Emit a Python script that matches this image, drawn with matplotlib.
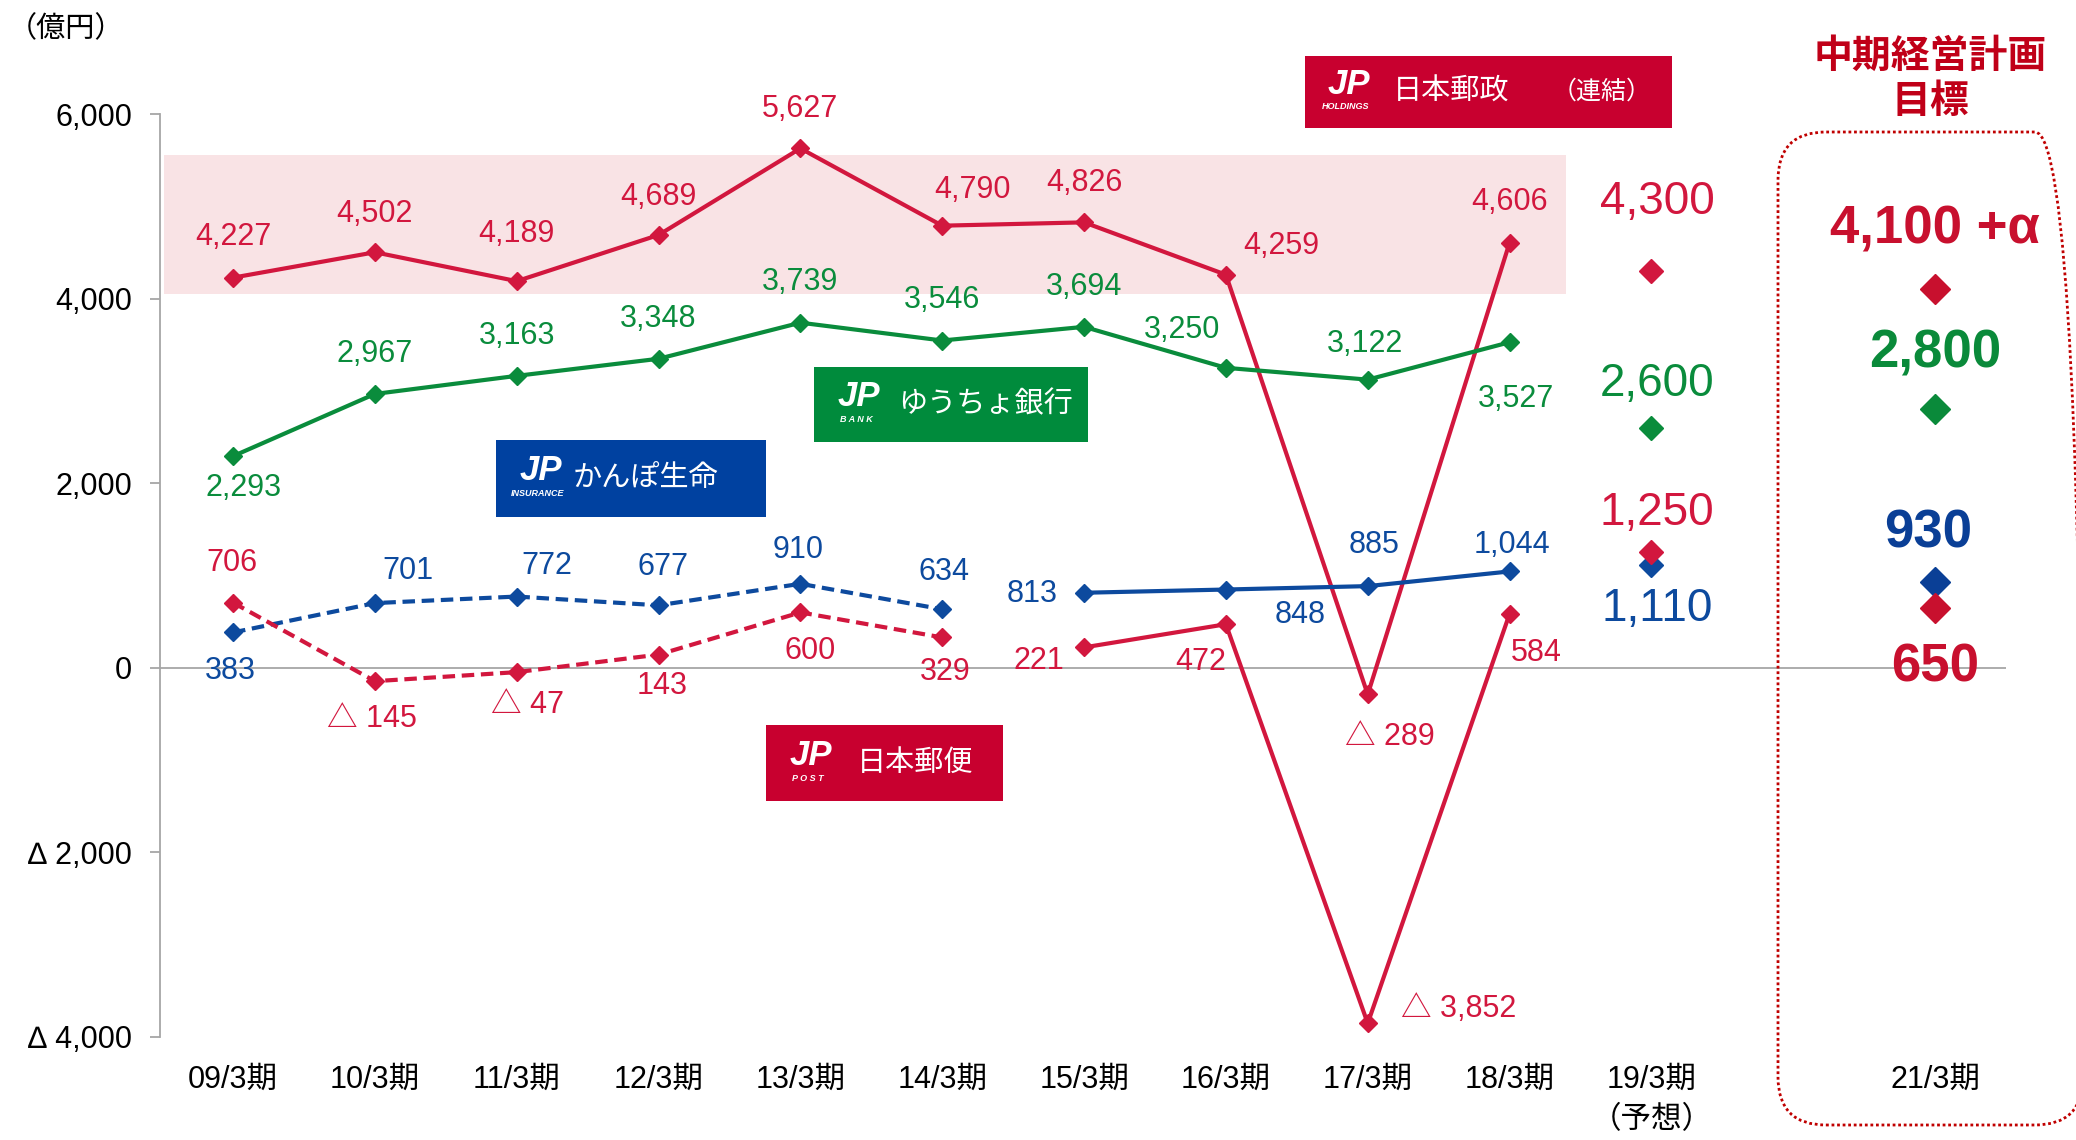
import numpy as np
import matplotlib.pyplot as plt
from matplotlib.patches import Rectangle, FancyBboxPatch
from matplotlib.transforms import IdentityTransform

plt.rcParams['font.family'] = ['Liberation Sans', 'Noto Sans CJK JP', 'DejaVu Sans']

# data (億円)
periods = ['09/3期', '10/3期', '11/3期', '12/3期', '13/3期', '14/3期',
           '15/3期', '16/3期', '17/3期', '18/3期', '19/3期\n（予想）', '21/3期']
holdings = [4227, 4502, 4189, 4689, 5627, 4790, 4826, 4259, -289, 4606]
bank = [2293, 2967, 3163, 3348, 3739, 3546, 3694, 3250, 3122, 3527]
insurance = [383, 701, 772, 677, 910, 634, 813, 848, 885, 1044]
post = [706, -145, -47, 143, 600, 329, 221, 472, -3852, 584]
# order: holdings, bank, insurance, post
forecast_19 = [4300, 2600, 1110, 1250]
target_21 = [4100, 2800, 930, 650]
yticks = [-4000, -2000, 0, 2000, 4000, 6000]

RED = '#D2173E'
GREEN = '#0A8C3C'
BLUE = '#0D4A9E'
GRAY = '#A6A6A6'

W, H = 2076, 1140


def fmt(v, tri='△'):
    return f'{tri} {abs(v):,}' if v < 0 else f'{v:,}'


def fpos(x, y):
    return x / W, 1 - y / H


fig = plt.figure(figsize=(W / 100, H / 100), dpi=100)
ax = fig.add_axes([160 / W, 1 - 1037 / H, (2006 - 160) / W, (1037 - 114) / H])
ax.set_xlim(-0.515, 12.5)
ax.set_ylim(-4000, 6000)

x_act = np.arange(len(holdings))
x_fc = len(holdings)
x_tg = len(holdings) + 2

# pink band behind holdings
ax.add_patch(Rectangle((-0.49, 4050), 9.89, 1510, color='#F9E3E5', lw=0, zorder=0))

ax.axhline(0, color=GRAY, lw=1.3, zorder=1)

# label offsets (dx, dy), roughly points
off_h = [(0, 31), (0, 29), (0, 36), (0, 29), (0, 30), (23, 27), (0, 30), (42, 22), (17, -32), (0, 31)]
off_b = [(8, -24), (0, 30), (0, 30), (0, 30), (0, 31), (0, 31), (0, 30), (-33, 29), (-2, 27), (5, -43)]
off_i = [(-2, -29), (25, 24), (23, 23), (3, 29), (-2, 26), (1, 28), (-39, -1), (56, -19), (5, 31), (2, 20)]
off_p = [(-1, 30), (-2, -29), (8, -25), (3, -24), (7, -29), (2, -26), (-34, -10), (-19, -29), (69, 11), (20, -30)]

lw = 3
ms = 9
dash = (0, (3, 1.6))

ax.plot(x_act, holdings, color=RED, lw=lw, marker='D', ms=ms, zorder=4, clip_on=False)
ax.plot(x_act, bank, color=GREEN, lw=lw, marker='D', ms=ms, zorder=4, clip_on=False)
ax.plot(x_act[:6], insurance[:6], color=BLUE, lw=lw, ls=dash, marker='D', ms=ms, zorder=4)
ax.plot(x_act[6:], insurance[6:], color=BLUE, lw=lw, marker='D', ms=ms, zorder=4)
ax.plot(x_act[:6], post[:6], color=RED, lw=lw, ls=dash, marker='D', ms=ms, zorder=4)
ax.plot(x_act[6:], post[6:], color=RED, lw=lw, marker='D', ms=ms, zorder=4, clip_on=False)

k = 0.95
for vals, offs, col in [(holdings, off_h, RED), (bank, off_b, GREEN),
                        (insurance, off_i, BLUE), (post, off_p, RED)]:
    for xi, v, (dx, dy) in zip(x_act, vals, offs):
        ax.annotate(fmt(v), (xi, v), xytext=(dx * k, dy * k), textcoords='offset points',
                    ha='center', va='center', fontsize=22, color=col, zorder=5,
                    annotation_clip=False)

# 19/3 forecast
cols = [RED, GREEN, BLUE, RED]
fc_off = [52, 33, -33, 30]
for v, c, dy in zip(forecast_19, cols, fc_off):
    ax.plot(x_fc, v, marker='D', ms=12, color=c, ls='none', zorder=4)
    ax.annotate(fmt(v), (x_fc, v), xytext=(4, dy * k), textcoords='offset points',
                ha='center', va='center', fontsize=33, color=c, zorder=5)

# 21/3 targets
tg_cols = ['#C8102E', '#0A8A3A', '#0A3F96', '#C8102E']
tg_off = [45, 42, 37, -45]
tg_txt = [fmt(target_21[0]) + ' +α'] + [fmt(v) for v in target_21[1:]]
tg_dx = [0, 0, -5, 0]
for v, c, dy, t, dx in zip(target_21, tg_cols, tg_off, tg_txt, tg_dx):
    ax.plot(x_tg, v, marker='D', ms=15, color=c, ls='none', zorder=4)
    ax.annotate(t, (x_tg, v), xytext=(dx, dy * k), textcoords='offset points',
                ha='center', va='center', fontsize=38, fontweight='bold', color=c, zorder=5)

# axes styling
for s in ['top', 'right', 'bottom']:
    ax.spines[s].set_visible(False)
ax.spines['left'].set_color(GRAY)
ax.spines['left'].set_linewidth(1.3)
ax.set_yticks(yticks)
ax.set_yticklabels([fmt(v, '∆') for v in yticks])
ax.tick_params(axis='y', length=7, color=GRAY, width=1.3, labelsize=22, pad=13)
ax.set_xticks(list(x_act) + [x_fc, x_tg])
ax.set_xticklabels(periods, linespacing=1.45)
ax.tick_params(axis='x', length=0, labelsize=22, pad=20)

fig.text(*fpos(8, 29), '（億円）', fontsize=21, ha='left', va='center')


# company boxes
def logo(x0, y0, x1, y1, color, sub, name, name_x, extra=None):
    fig.add_artist(Rectangle(fpos(x0, y1), (x1 - x0) / W, (y1 - y0) / H,
                             transform=fig.transFigure, color=color, lw=0, zorder=6))
    hgt = y1 - y0
    jx = x0 + 45 if sub != 'HOLDINGS' else x0 + 44
    fig.text(*fpos(jx, y0 + 0.4 * hgt), 'JP', fontsize=25, fontweight='bold', style='italic',
             color='white', ha='center', va='center', family='Liberation Sans', zorder=7)
    fig.text(*fpos(jx - 3, y0 + 0.7 * hgt), sub, fontsize=6.5, fontweight='bold', style='italic',
             color='white', ha='center', va='center', family='Liberation Sans', zorder=7)
    fig.text(*fpos(name_x, y0 + 0.5 * hgt), name, fontsize=21, color='white',
             ha='left', va='center', zorder=7)
    if extra:
        fig.text(*fpos(extra[0], y0 + 0.5 * hgt), extra[1], fontsize=18, color='white',
                 ha='left', va='center', zorder=7)


logo(1305, 56, 1672, 128, '#C8002F', 'HOLDINGS', '日本郵政', 1393, (1552, '（連結）'))
logo(814, 367, 1088, 442, '#008B3C', 'B A N K', 'ゆうちょ銀行', 898)
logo(496, 440, 766, 517, '#0041A0', 'INSURANCE', 'かんぽ生命', 573)
logo(766, 725, 1003, 801, '#C8002F', 'P O S T', '日本郵便', 857)

# mid-term plan box
box = FancyBboxPatch((1778, H - 1125), 2083 - 1778, 1125 - 132,
                     boxstyle='round,pad=0,rounding_size=48', transform=IdentityTransform(),
                     fill=False, edgecolor='#C00000', lw=2, ls=(0, (1, 1)))
fig.add_artist(box)
fig.text(*fpos(1930, 80), '中期経営計画\n目標', fontsize=28, fontweight='bold',
         color='#C00018', ha='center', va='center', linespacing=1.32)

fig.savefig('out.png', dpi=100)
